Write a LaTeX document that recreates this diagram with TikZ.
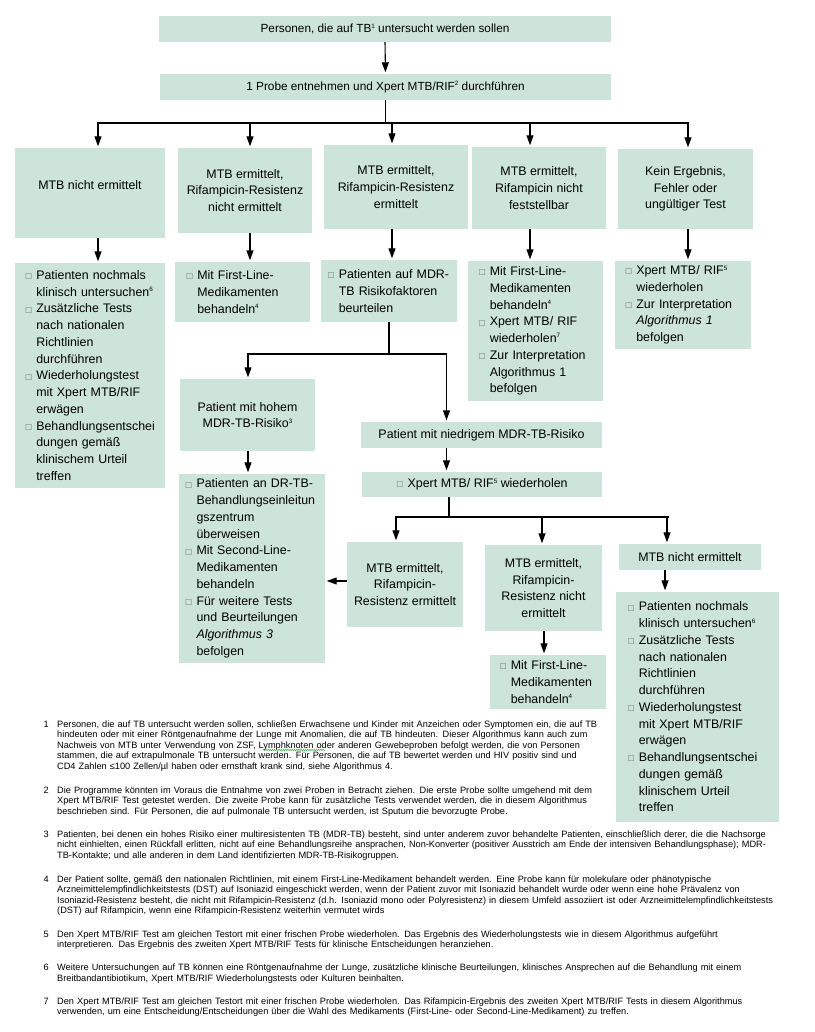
\documentclass[tikz,border=0pt]{standalone}
\usepackage{fontspec}
\setmainfont{Liberation Sans}
\newfontfamily\symf{DejaVu Sans}
\usetikzlibrary{arrows.meta,decorations.pathmorphing}
\definecolor{boxfill}{RGB}{204,228,218}
\definecolor{bulgray}{RGB}{110,110,110}
\definecolor{squig}{RGB}{60,160,60}
\newcommand\bul{\makebox[11.3pt][l]{\raisebox{0.8pt}{\symf\fontsize{7.5}{7.5}\selectfont\color{bulgray}□}}}
\newcommand\ind{\hspace*{11.3pt}}
\newcommand\sups[1]{\raisebox{4.6pt}{\fontsize{6.3}{6.3}\selectfont #1}}
\newcommand\jla[1]{\makebox[548pt][s]{#1}}
\newcommand\jlb[1]{\makebox[717pt][s]{#1}}
\begin{document}
\begin{tikzpicture}[x=1pt,y=-1pt,
 box/.style={fill=boxfill, inner sep=0pt, align=center, font=\fontsize{12.4}{16.7}\selectfont},
 topbox/.style={box, font=\fontsize{11.8}{14}\selectfont},
 lst/.style={fill=boxfill, inner ysep=0pt, align=left, font=\fontsize{12.4}{16.75}\selectfont},
 ln/.style={line width=1.1pt, line cap=rect},
 arr/.style={line width=1.1pt, -{Triangle[length=10pt,width=7pt]}, shorten >=1.5pt},
 fn/.style={inner sep=0pt, anchor=base west, font=\fontsize{9.2}{10.5}\selectfont},
 fnum/.style={inner sep=0pt, anchor=base west, font=\fontsize{9.2}{10.5}\selectfont}]
\useasboundingbox (0,0) rectangle (814,1032);

% top boxes
\node[topbox, minimum width=452pt, minimum height=26pt] (t1) at (385,29) {Personen, die auf TB\sups{1} untersucht werden sollen};
\node[topbox, minimum width=451pt, minimum height=26pt] (t2) at (385.5,87) {1 Probe entnehmen und Xpert MTB/RIF\sups{2} durchführen};

% first row
\node[box, minimum width=150pt, minimum height=90pt] (A) at (90,193) {MTB nicht ermittelt\\ \mbox{}};
\node[box, minimum width=134pt, minimum height=85pt] (B) at (245,190.5) {MTB ermittelt,\\Rifampicin-Resistenz\\nicht ermittelt};
\node[box, minimum width=144pt, minimum height=84pt] (C) at (396,187) {MTB ermittelt,\\Rifampicin-Resistenz\\ermittelt};
\node[box, minimum width=134pt, minimum height=82pt] (D) at (539,188) {MTB ermittelt,\\Rifampicin nicht\\feststellbar};
\node[box, minimum width=135pt, minimum height=80pt] (E) at (685.5,189) {Kein Ergebnis,\\Fehler oder\\ungültiger Test};

% lists row
\node[lst, inner xsep=10pt, text width=130pt, minimum width=150pt, minimum height=225pt] (LA) at (90,375.5)
 {\bul Patienten nochmals\\\ind klinisch untersuchen\sups{6}\\\bul Zusätzliche Tests\\\ind nach nationalen\\\ind Richtlinien\\\ind durchführen\\\bul Wiederholungstest\\\ind mit Xpert MTB/RIF\\\ind erwägen\\\bul Behandlungsentschei\\\ind dungen gemäß\\\ind klinischem Urteil\\\ind treffen};
\node[lst, inner xsep=11pt, text width=113pt, minimum width=135pt, minimum height=60pt] (LB) at (242.5,292)
 {\bul Mit First-Line-\\\ind Medikamenten\\\ind behandeln\sups{4}};
\node[lst, inner xsep=6.5pt, text width=123pt, minimum width=136pt, minimum height=62pt] (LC) at (389,291)
 {\bul Patienten auf MDR-\\\ind TB Risikofaktoren\\\ind beurteilen};
\node[lst, inner xsep=10.5pt, text width=114pt, minimum width=135pt, minimum height=140pt] (LD) at (535.5,331)
 {\bul Mit First-Line-\\\ind Medikamenten\\\ind behandeln\sups{4}\\\bul Xpert MTB/ RIF\\\ind wiederholen\sups{7}\\\bul Zur Interpretation\\\ind Algorithmus 1\\\ind befolgen};
\node[lst, inner xsep=10pt, text width=116pt, minimum width=136pt, minimum height=88pt] (LE) at (683,305)
 {\bul Xpert MTB/ RIF\sups{5}\\\ind wiederholen\\\bul Zur Interpretation\\\ind \textit{Algorithmus 1}\\\ind befolgen};

% risk branch
\node[box, minimum width=135pt, minimum height=72pt] (Hoch) at (247.5,415) {Patient mit hohem\\MDR-TB-Risiko\sups{3}};
\node[box, minimum width=241pt, minimum height=26pt] (Nied) at (481.5,435) {Patient mit niedrigem MDR-TB-Risiko};
\node[box, minimum width=240pt, minimum height=25pt] (Xp) at (482,484.5) {\bul Xpert MTB/ RIF\sups{5} wiederholen};
\node[lst, inner xsep=6.2pt, text width=133.6pt, minimum width=146pt, minimum height=189pt] (DR) at (252,568.5)
 {\bul Patienten an DR-TB-\\\ind Behandlungseinleitun\\\ind gszentrum\\\ind überweisen\\\bul Mit Second-Line-\\\ind Medikamenten\\\ind behandeln\\\bul Für weitere Tests\\\ind und Beurteilungen\\\ind \textit{Algorithmus 3}\\\ind befolgen};

% second result row
\node[box, minimum width=116pt, minimum height=85pt] (F) at (405,584.5) {MTB ermittelt,\\Rifampicin-\\Resistenz ermittelt};
\node[box, minimum width=117pt, minimum height=86pt] (G) at (543.5,588) {MTB ermittelt,\\Rifampicin-\\Resistenz nicht\\ermittelt};
\node[box, minimum width=142pt, minimum height=26pt] (H) at (690,557) {MTB nicht ermittelt};
\node[lst, inner xsep=9.5pt, text width=97pt, minimum width=116pt, minimum height=54pt] (LG) at (548,682)
 {\bul Mit First-Line-\\\ind Medikamenten\\\ind behandeln\sups{4}};
\node[lst, inner xsep=11.5pt, text width=140pt, minimum width=163pt, minimum height=230pt] (LH) at (697.5,707)
 {\bul Patienten nochmals\\\ind klinisch untersuchen\sups{6}\\\bul Zusätzliche Tests\\\ind nach nationalen\\\ind Richtlinien\\\ind durchführen\\\bul Wiederholungstest\\\ind mit Xpert MTB/RIF\\\ind erwägen\\\bul Behandlungsentschei\\\ind dungen gemäß\\\ind klinischem Urteil\\\ind treffen};

% junction coordinates
\coordinate (h1) at (98,123);
\coordinate (h2) at (250,123);
\coordinate (h3) at (392,123);
\coordinate (h4) at (530,123);
\coordinate (h5) at (688,123);
\coordinate (bj) at (389,354);
\coordinate (bl) at (248,354);
\coordinate (br) at (446.5,354);
\coordinate (xj) at (449,517);
\coordinate (xl) at (396,517);
\coordinate (xm) at (542,517);
\coordinate (xr) at (668,517);
\coordinate (xh) at (667,517);
\coordinate (fy) at (0,581);
\coordinate (xg) at (544,0);
\coordinate (xhh) at (665,0);

% connectors
\draw[arr] (t1.south) -- (t2.north);
\draw[ln] (t2.south) -- (t2.south |- h1);
\draw[ln] (h1) -- (h5);
\draw[arr] (h1) -- (h1 |- A.north);
\draw[arr] (h2) -- (h2 |- B.north);
\draw[arr] (h3) -- (h3 |- C.north);
\draw[arr] (h4) -- (h4 |- D.north);
\draw[arr] (h5) -- (h5 |- E.north);
\draw[arr] (A.south -| h1) -- (LA.north -| h1);
\draw[arr] (B.south -| h2) -- (LB.north -| h2);
\draw[arr] (C.south -| h3) -- (LC.north -| h3);
\draw[arr] (D.south -| h4) -- (LD.north -| h4);
\draw[arr] (E.south -| h5) -- (LE.north -| h5);
\draw[ln] (LC.south -| bj) -- (bj);
\draw[ln] (bl) -- (br);
\draw[arr] (bl) -- (bl |- Hoch.north);
\draw[arr] (br) -- (br |- Nied.north);
\draw[arr] (Hoch.south -| bl) -- (DR.north -| bl);
\draw[arr] (Nied.south -| br) -- (Xp.north -| br);
\draw[ln] (Xp.south -| xj) -- (xj);
\draw[ln] (xl) -- (xr);
\draw[arr] (xl) -- (xl |- F.north);
\draw[arr] (xm) -- (xm |- G.north);
\draw[arr] (xh) -- (xh |- H.north);
\draw[arr] (F.west |- fy) -- (DR.east |- fy);
\draw[arr] (G.south -| xg) -- (LG.north -| xg);
\draw[arr] (H.south -| xhh) -- (LH.north -| xhh);

% footnotes
\node[fnum] (n1) at (43.5,727) {1};
\node[fn, text width=548pt] (f1) at (57,727) {\jla{Personen, die auf TB untersucht werden sollen, schließen Erwachsene und Kinder mit Anzeichen oder Symptomen ein, die auf TB}\\\jla{hindeuten oder mit einer Röntgenaufnahme der Lunge mit Anomalien, die auf TB hindeuten. Dieser Algorithmus kann auch zum}\\\jla{Nachweis von MTB unter Verwendung von ZSF, Lymphknoten oder anderen Gewebeproben befolgt werden, die von Personen}\\\jla{stammen, die auf extrapulmonale TB untersucht werden. Für Personen, die auf TB bewertet werden und HIV positiv sind und}\\CD4 Zahlen ≤100 Zellen/µl haben oder ernsthaft krank sind, siehe Algorithmus 4.};
\node[fnum] (n2) at (43.5,793) {2};
\node[fn, text width=548pt] (f2) at (57,793) {\jla{Die Programme könnten im Voraus die Entnahme von zwei Proben in Betracht ziehen. Die erste Probe sollte umgehend mit dem}\\\jla{Xpert MTB/RIF Test getestet werden. Die zweite Probe kann für zusätzliche Tests verwendet werden, die in diesem Algorithmus}\\beschrieben sind. Für Personen, die auf pulmonale TB untersucht werden, ist Sputum die bevorzugte Probe.};
\node[fnum] (n3) at (43.5,837) {3};
\node[fn, text width=717pt] (f3) at (57,837) {\jlb{Patienten, bei denen ein hohes Risiko einer multiresistenten TB (MDR-TB) besteht, sind unter anderem zuvor behandelte Patienten, einschließlich derer, die die Nachsorge}\\\jlb{nicht einhielten, einen Rückfall erlitten, nicht auf eine Behandlungsreihe ansprachen, Non-Konverter (positiver Ausstrich am Ende der intensiven Behandlungsphase); MDR-}\\TB-Kontakte; und alle anderen in dem Land identifizierten MDR-TB-Risikogruppen.};
\node[fnum] (n4) at (43.5,882) {4};
\node[fn, text width=717pt] (f4) at (57,882) {\jlb{Der Patient sollte, gemäß den nationalen Richtlinien, mit einem First-Line-Medikament behandelt werden. Eine Probe kann für molekulare oder phänotypische}\\\jlb{Arzneimittelempfindlichkeitstests (DST) auf Isoniazid eingeschickt werden, wenn der Patient zuvor mit Isoniazid behandelt wurde oder wenn eine hohe Prävalenz von}\\\jlb{Isoniazid-Resistenz besteht, die nicht mit Rifampicin-Resistenz (d.h. Isoniazid mono oder Polyresistenz) in diesem Umfeld assoziiert ist oder Arzneimittelempfindlichkeitstests}\\(DST) auf Rifampicin, wenn eine Rifampicin-Resistenz weiterhin vermutet wirds};
\node[fnum] (n5) at (43.5,937) {5};
\node[fn, text width=717pt] (f5) at (57,937) {\jlb{Den Xpert MTB/RIF Test am gleichen Testort mit einer frischen Probe wiederholen. Das Ergebnis des Wiederholungstests wie in diesem Algorithmus aufgeführt}\\interpretieren. Das Ergebnis des zweiten Xpert MTB/RIF Tests für klinische Entscheidungen heranziehen.};
\node[fnum] (n6) at (43.5,970.7) {6};
\node[fn, text width=717pt] (f6) at (57,970.7) {\jlb{Weitere Untersuchungen auf TB können eine Röntgenaufnahme der Lunge, zusätzliche klinische Beurteilungen, klinisches Ansprechen auf die Behandlung mit einem}\\Breitbandantibiotikum, Xpert MTB/RIF Wiederholungstests oder Kulturen beinhalten.};
\node[fnum] (n7) at (43.5,1004) {7};
\node[fn, text width=717pt] (f7) at (57,1004) {\jlb{Den Xpert MTB/RIF Test am gleichen Testort mit einer frischen Probe wiederholen. Das Rifampicin-Ergebnis des zweiten Xpert MTB/RIF Tests in diesem Algorithmus}\\verwenden, um eine Entscheidung/Entscheidungen über die Wahl des Medikaments (First-Line- oder Second-Line-Medikament) zu treffen.};

% spell-check squiggle
\draw[squig, line width=0.5pt, decorate, decoration={snake, amplitude=0.6pt, segment length=2.2pt}] (263,750) -- (325,750);
\end{tikzpicture}
\end{document}
